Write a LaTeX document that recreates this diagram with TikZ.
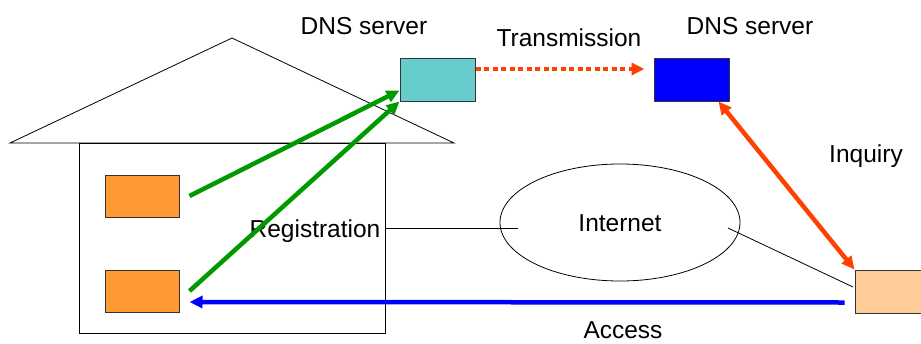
\documentclass[tikz,border=0pt]{standalone}
\usepackage{fontspec}
\setmainfont{Liberation Sans}
\usetikzlibrary{arrows.meta,shapes.geometric}
\definecolor{dnscyan}{HTML}{66CCCC}
\definecolor{dnsblue}{HTML}{0000FF}
\definecolor{pcorange}{HTML}{FF9933}
\definecolor{peach}{HTML}{FFCC99}
\definecolor{arrgreen}{HTML}{009900}
\definecolor{arrred}{HTML}{FF4000}
\definecolor{arrblue}{HTML}{0000FF}
\tikzset{
  box/.style={draw=black!80, line width=1pt, inner sep=0pt, minimum width=75pt, minimum height=43pt},
  pcbox/.style={box, fill=pcorange, minimum width=74pt, minimum height=42pt},
  lbl/.style={font=\fontsize{24.5}{28}\selectfont, inner sep=0pt, anchor=base},
  thin/.style={draw=black, line width=0.8pt},
  tipx/.style={-{Triangle[length=13pt,width=12pt]}},
  greenarr/.style={draw=arrgreen, line width=4.5pt, tipx},
  bluearr/.style={draw=arrblue, line width=4.5pt, tipx},
  redarr/.style={draw=arrred, line width=4.5pt, {Triangle[length=13pt,width=12pt]}-{Triangle[length=13pt,width=12pt]}},
  dotarr/.style={draw=arrred, line width=4.5pt, dash pattern=on 5pt off 3.5pt, tipx},
}
\begin{document}
\begin{tikzpicture}[x=1pt,y=-1pt]
\useasboundingbox (0,0) rectangle (921,343);
% house
\coordinate (apex) at (232,38);
\coordinate (roofL) at (10,143);
\coordinate (roofR) at (454,143);
\draw[thin] (roofL) -- (apex) -- (roofR) -- cycle;
\node[draw=black, line width=0.8pt, fill=white, minimum width=306pt, minimum height=190pt, inner sep=0pt] (house) at (232,238) {};
% PCs
\node[pcbox] (pc1) at (142,196) {};
\node[pcbox] (pc2) at (142,291) {};
% DNS servers
\node[box, fill=dnscyan] (dns1) at (437.5,79.5) {};
\node[box, fill=dnsblue] (dns2) at (691.5,79.5) {};
% client
\node[box, fill=peach] (client) at (892.5,291.5) {};
% internet
\node[draw=black, line width=0.8pt, ellipse, minimum width=240pt, minimum height=117pt, inner sep=0pt] (net) at (620,222.5) {};
% labels
\node[lbl] (ldns1) at (364,34) {DNS server};
\node[lbl] (ldns2) at (750,34) {DNS server};
\node[lbl] (ltrans) at (569,46) {Transmission};
\node[lbl] (linq) at (866,162) {Inquiry};
\node[lbl] (lacc) at (623,338.5) {Access};
\node[lbl] (lreg) at (315,237) {Registration};
\node[lbl] (lnet) at (620,231) {Internet};
% connectors
\coordinate (regA) at (385,228);
\coordinate (regB) at (518,228);
\draw[thin] (regA) -- (regB);
\coordinate (netA) at (728,228);
\coordinate (netB) at (853,287);
\draw[thin] (netA) -- (netB);
\path[greenarr] ([xshift=10pt]pc1.east) -- ([yshift=11pt]dns1.south west);
\path[greenarr] ([xshift=10pt]pc2.east) -- (dns1.south west);
\path[dotarr] (dns1.east |- 0,69) -- ([xshift=-9pt]dns2.west |- 0,69);
\path[redarr] ([xshift=-11pt]dns2.south east) -- (client.north west);
\path[bluearr] ([xshift=-10pt,yshift=-11pt]client.west) -- ([xshift=10pt,yshift=-11pt]pc2.east);
\end{tikzpicture}
\end{document}
